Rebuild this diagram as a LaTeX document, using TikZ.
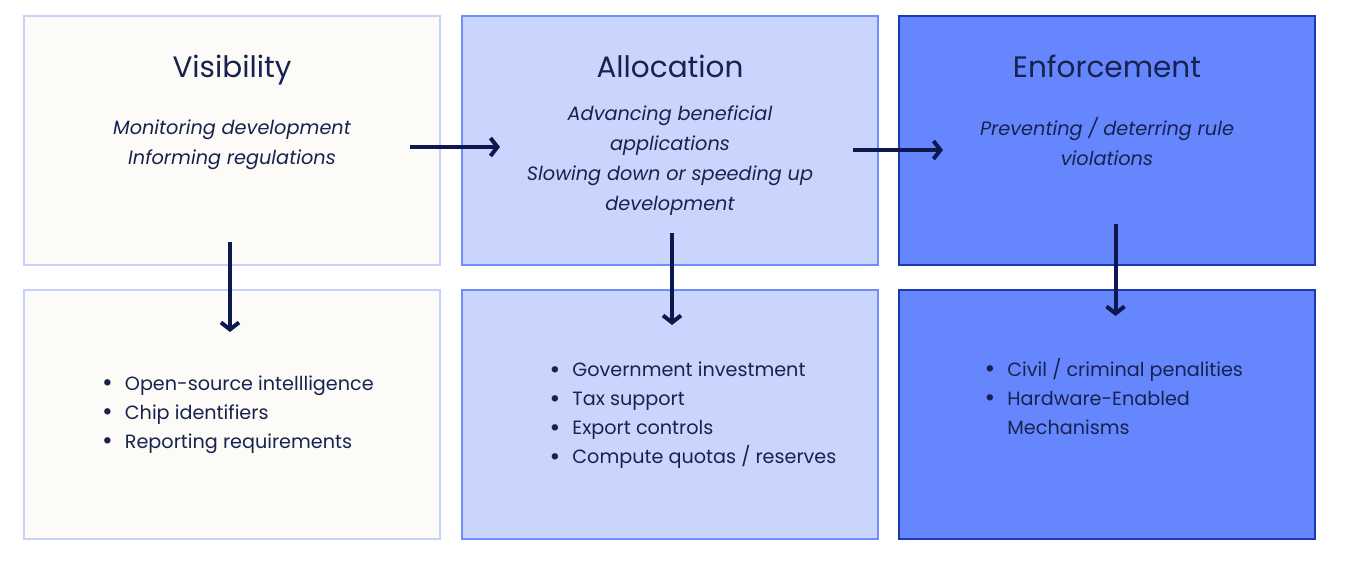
\documentclass[tikz,border=0pt]{standalone}
\usepackage{fontspec}
\setmainfont{Poppins}
\usetikzlibrary{arrows.meta, positioning}
\definecolor{ink}{HTML}{18224F}
\definecolor{arrowc}{HTML}{0D1850}
\definecolor{visfill}{HTML}{FDFBF7}
\definecolor{visline}{HTML}{C6D2FD}
\definecolor{allfill}{HTML}{C9D5FD}
\definecolor{allline}{HTML}{6F8DFC}
\definecolor{enffill}{HTML}{6686FD}
\definecolor{enfline}{HTML}{1B39B3}
\newcommand{\blt}{\raisebox{-1.5pt}{\fontsize{26}{29}\selectfont\textbullet}}
\begin{document}
\begin{tikzpicture}
[x=1pt, y=-1pt,
   flow/.style={line width=4pt, draw=arrowc, arrows={-Straight Barb[length=7pt,width=18pt]}},
   box/.style={shape=rectangle, line width=2.5pt, minimum width=416pt, minimum height=249pt, inner sep=0pt, outer sep=0pt},
   visG/.style={box, draw=visline, fill=visfill},
   allG/.style={box, draw=allline, fill=allfill},
   enfG/.style={box, draw=enfline, fill=enffill},
   title/.style={text=ink, font=\fontsize{29.5}{34}\selectfont, anchor=base},
   goal/.style={text=ink, font=\fontsize{19.3}{30}\selectfont\itshape, align=center},
   tools/.style={text=ink, font=\fontsize{19.2}{29}\selectfont, anchor=west, inner sep=0pt}]
\useasboundingbox (0,0) rectangle (1346,576);
\node[visG] (Vis) at (232,140.5) {};
\node[allG] (All) [right=22pt of Vis] {};
\node[enfG] (Enf) [right=21pt of All] {};
\node[visG] (VisL) [below=25pt of Vis] {};
\node[allG] (AllL) [below=25pt of All] {};
\node[enfG] (EnfL) [below=25pt of Enf] {};
%% titles and goals
\node[title] (VisT) at ([yshift=-61pt]Vis.north) {Visibility};
\node[title] (AllT) at ([yshift=-61pt]All.north) {Allocation};
\node[title] (EnfT) at ([yshift=-61pt]Enf.north) {Enforcement};
\node[goal] (VisS) at ([yshift=-129pt]Vis.north) {Monitoring development\\Informing regulations};
\node[goal] (AllS) at ([yshift=-144.5pt]All.north) {Advancing beneficial\\applications\\Slowing down or speeding up\\development};
\node[goal] (EnfS) at ([yshift=-125pt]Enf.north) {Preventing / deterring rule\\violations};
%% tool lists
\node[tools] (VisB) at ([xshift=78pt,yshift=1pt]VisL.west) {\begin{tabular}{@{}l@{\hspace{12pt}}l@{}}
\blt & Open-source intellligence\\
\blt & Chip identifiers\\
\blt & Reporting requirements
\end{tabular}};
\node[tools] (AllB) at ([xshift=87.5pt]AllL.west) {\begin{tabular}{@{}l@{\hspace{12pt}}l@{}}
\blt & Government investment\\
\blt & Tax support\\
\blt & Export controls\\
\blt & Compute quotas / reserves
\end{tabular}};
\node[tools] (EnfB) at ([xshift=85.5pt,yshift=15pt]EnfL.west) {\begin{tabular}{@{}l@{\hspace{12pt}}l@{}}
\blt & Civil / criminal penalities\\
\blt & Hardware-Enabled\\
 & Mechanisms
\end{tabular}};
%% arrows
\coordinate (h1s) at ([xshift=-30pt,yshift=-6.5pt]Vis.east);
\coordinate (h1e) at ([xshift=38pt]h1s -| All.west);
\coordinate (h2s) at ([xshift=-25pt,yshift=-9.5pt]All.east);
\coordinate (h2e) at ([xshift=44pt]h2s -| Enf.west);
\coordinate (v1s) at ([xshift=-2pt,yshift=23pt]Vis.south);
\coordinate (v1e) at ([yshift=-42pt]v1s |- VisL.north);
\coordinate (v2s) at ([xshift=2pt,yshift=32pt]All.south);
\coordinate (v2e) at ([yshift=-35pt]v2s |- AllL.north);
\coordinate (v3s) at ([xshift=8.5pt,yshift=41pt]Enf.south);
\coordinate (v3e) at ([yshift=-26pt]v3s |- EnfL.north);
\draw [flow] (h1s) to (h1e);
\draw [flow] (h2s) to (h2e);
\draw [flow] (v1s) to (v1e);
\draw [flow] (v2s) to (v2e);
\draw [flow] (v3s) to (v3e);
\end{tikzpicture}
\end{document}
